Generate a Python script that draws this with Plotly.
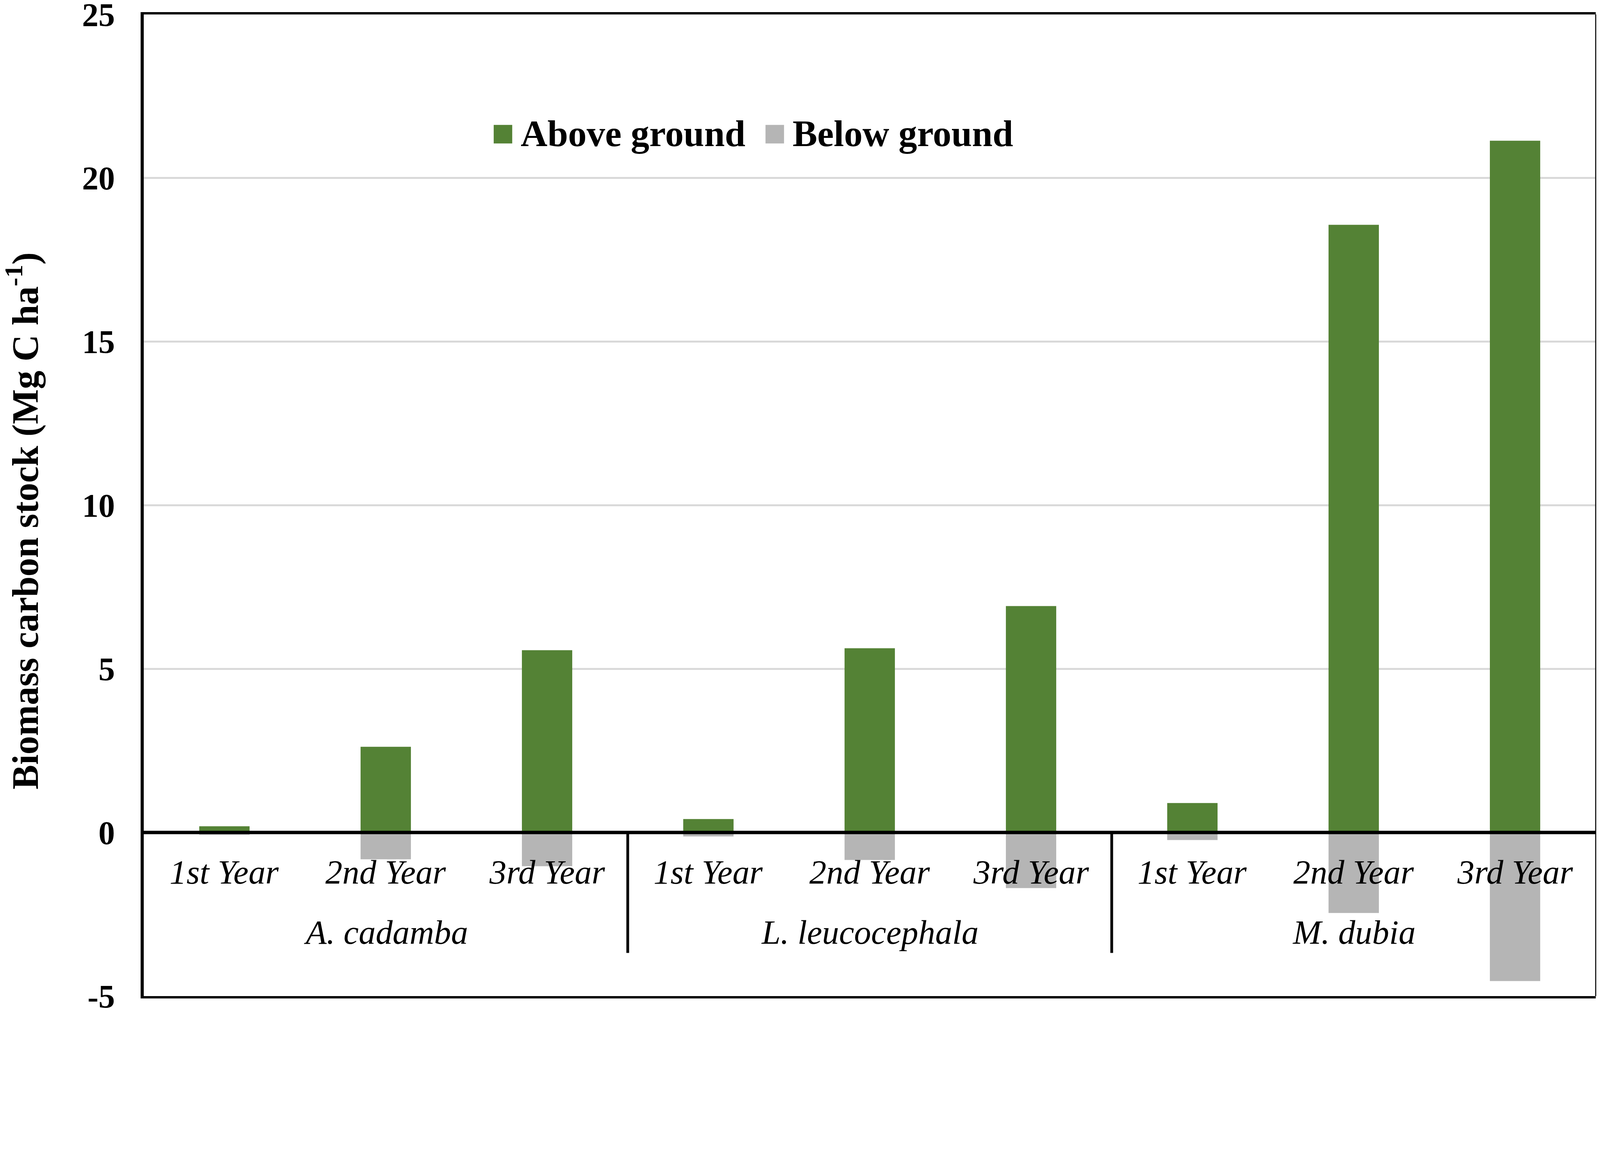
import plotly.graph_objects as go

# values (Mg C ha-1)
species = ["A. cadamba", "L. leucocephala", "M. dubia"]
years = ["1st Year", "2nd Year", "3rd Year"]
above_ground = [0.19, 2.62, 5.57, 0.41, 5.63, 6.92, 0.90, 18.57, 21.14]
below_ground = [-0.07, -0.82, -1.03, -0.12, -0.84, -1.70, -0.23, -2.46, -4.54]

series_names = ["Above ground", "Below ground"]
y_ticks = [-5, 0, 5, 10, 15, 20, 25]
y_ticktext = ["-5", "0", "5", "10", "15", "20", "25"]
y_title = "Biomass carbon stock (Mg C ha<sup>-1</sup>)"
green = "#548235"
grey = "#b5b5b5"
font = "Liberation Serif"

# the page is shown in a 4096 css px wide viewport, screenshot at 4664 px
S = 4096 / 4664


def px(v):
    return v * S


W = 4080
H = 2600
left = px(419) - 8
top = px(42) - 8
bottom = px(2904) - 8

# one unique category per bar, species first then year
keys = []
for s in species:
    for y in years:
        keys.append(s + " | " + y)

fig = go.Figure()
fig.add_trace(go.Bar(x=keys, y=above_ground, name=series_names[0],
                     marker=dict(color=green, line=dict(width=0)),
                     showlegend=False))
fig.add_trace(go.Bar(x=keys, y=below_ground, name=series_names[1],
                     marker=dict(color=grey, line=dict(width=0)),
                     showlegend=False))

label_font = dict(family=font, size=px(99), color="black", style="italic")
annotations = []
# inner level of the category axis: the years
for k in keys:
    annotations.append(dict(x=k, y=-1.22, xref="x", yref="y", text=k.split(" | ")[1],
                            showarrow=False, xanchor="center", yanchor="middle",
                            font=label_font))
# outer level: the species, centred under their middle year
for i, s in enumerate(species):
    annotations.append(dict(x=keys[i * len(years) + 1], y=-3.05, xref="x", yref="y", text=s,
                            showarrow=False, xanchor="center", yanchor="middle",
                            font=label_font))

# y axis title, placed a little below the middle like the original
annotations.append(dict(x=0, y=(bottom - (px(1518) - 8)) / (bottom - top),
                        xref="paper", yref="paper", xshift=(px(66) - 8) - left,
                        text=y_title, textangle=-90, showarrow=False,
                        xanchor="center", yanchor="middle",
                        font=dict(family=font, size=px(108), color="black", weight="bold")))

# legend drawn by hand so the swatches can be as big as in the original
legend_x = [0.2474, 0.4346]
legend_colors = [green, grey]
shapes = []
half = px(27)
for name, lx, c in zip(series_names, legend_x, legend_colors):
    shapes.append(dict(type="rect", xref="paper", yref="paper",
                       xsizemode="pixel", ysizemode="pixel",
                       xanchor=lx, yanchor=0.878, x0=-half, x1=half, y0=-half, y1=half,
                       fillcolor=c, line=dict(width=0)))
    annotations.append(dict(x=lx + 0.0118, y=0.8788, xref="paper", yref="paper", text=name,
                            showarrow=False, xanchor="left", yanchor="middle",
                            font=dict(family=font, size=px(108), color="black", weight="bold")))

# dividers between the species groups
for g in range(1, len(species)):
    xd = g * len(years) - 0.5
    shapes.append(dict(type="line", xref="x", yref="y", x0=xd, x1=xd, y0=0, y1=-3.68,
                       line=dict(color="black", width=px(8)), layer="above"))

# horizontal axis line at zero, on top of the bars
shapes.append(dict(type="line", xref="paper", yref="y", x0=0, x1=1, y0=0, y1=0,
                   line=dict(color="black", width=px(10)), layer="above"))
# thin right border
shapes.append(dict(type="line", xref="paper", yref="paper", x0=1, x1=1, y0=0, y1=1,
                   line=dict(color="black", width=px(3)), layer="above"))

fig.update_layout(
    width=W, height=H,
    margin=dict(l=left, r=3, t=top, b=H - bottom, autoexpand=False),
    paper_bgcolor="white", plot_bgcolor="white",
    barmode="relative", bargap=0.688,
    font=dict(family=font, color="black"),
    annotations=annotations,
    shapes=shapes,
)
fig.update_xaxes(
    type="category", range=[-0.5, len(keys) - 0.5],
    showticklabels=False, ticks="", showgrid=False, automargin=False,
    showline=True, linecolor="black", linewidth=px(7), mirror=True,
)
fig.update_yaxes(
    range=[-5, 25], tickmode="array", tickvals=y_ticks, ticktext=y_ticktext,
    showgrid=True, gridcolor="#d9d9d9", gridwidth=px(6),
    zeroline=False, automargin=False,
    showline=True, linecolor="black", linewidth=px(9),
    ticks="", ticklabelstandoff=round(px(56)), ticklabeloverflow="allow",
    tickfont=dict(family=font, size=px(96), color="black", weight="bold"),
)

fig.write_html("out.html")
